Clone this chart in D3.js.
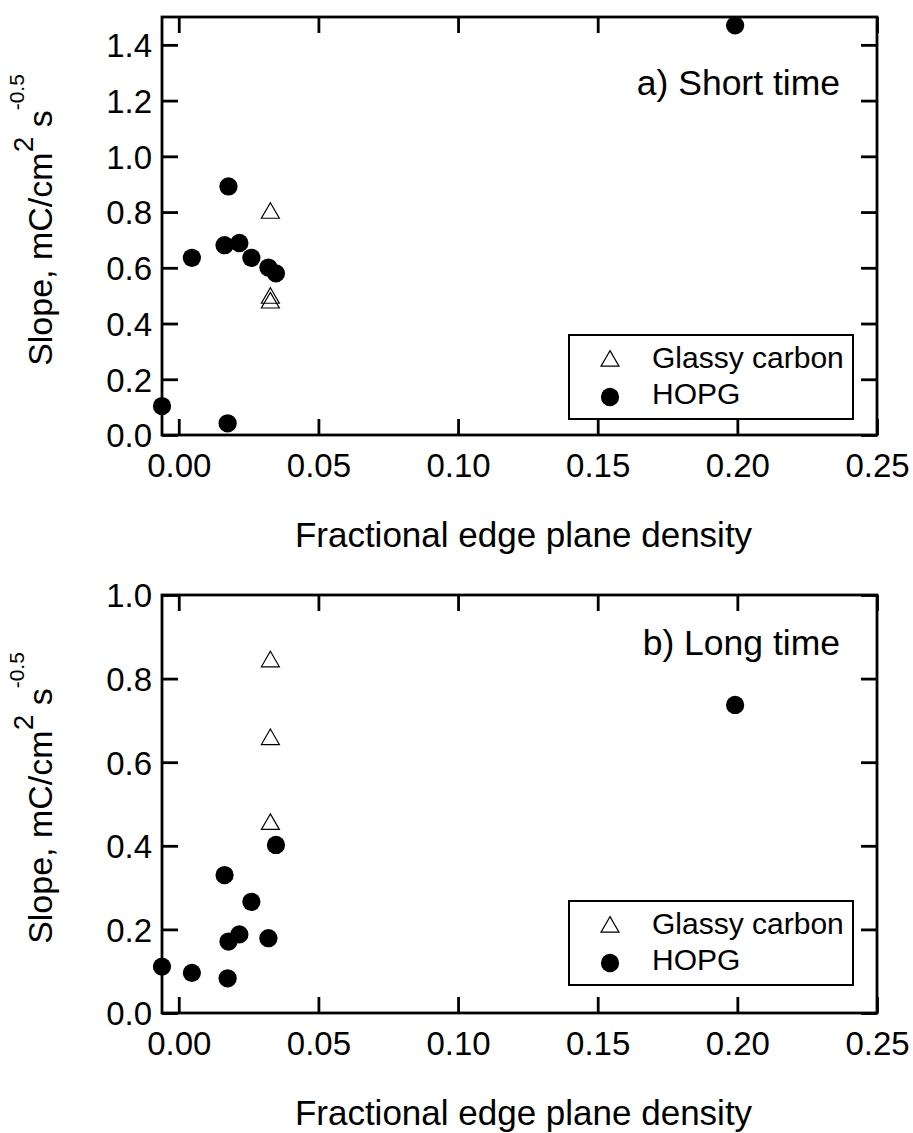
<!DOCTYPE html>
<html>
<head>
<meta charset="utf-8">
<script src="https://cdn.jsdelivr.net/npm/d3@7"></script>
<style>
  body { margin: 0; background: #fff; }
  svg text { font-family: Arial, "Liberation Sans", sans-serif; fill: #000; }
</style>
</head>
<body>
<script>
//slope vs fractional edge plane density, two panels (short / long time)

//HOPG samples, same x in both panels
var edgeDensity = [-0.006, 0.0047, 0.0164, 0.0175, 0.0178, 0.0217, 0.026, 0.0321, 0.0348, 0.1992];
var hopgShort   = [0.104, 0.636, 0.681, 0.042, 0.892, 0.689, 0.636, 0.601, 0.580, 1.470];
var hopgLong    = [0.111, 0.096, 0.330, 0.083, 0.171, 0.188, 0.266, 0.179, 0.402, 0.737];

//glassy carbon samples
var gcDensity = [0.0328, 0.0328, 0.0328];
var gcShort   = [0.800, 0.495, 0.478];
var gcLong    = [0.843, 0.657, 0.454];

var xTicks = [0, 0.05, 0.10, 0.15, 0.20, 0.25];
var yTicksShort = [0, 0.2, 0.4, 0.6, 0.8, 1.0, 1.2, 1.4];
var yTicksLong  = [0, 0.2, 0.4, 0.6, 0.8, 1.0];

var panelLabels = ["a) Short time", "b) Long time"];
var legendNames = ["Glassy carbon", "HOPG"];
var xTitle = "Fractional edge plane density";

var width = 913, height = 1133;
var left = 162, right = 877;

var svg = d3.select("body").append("svg")
    .attr("width", width)
    .attr("height", height);

var x = d3.scaleLinear().domain([-0.006, 0.25]).range([left, right]);

var triangle = d3.symbol().type(d3.symbolTriangle).size(140);
var circle = d3.symbol().type(d3.symbolCircle).size(262);

function drawPanel(opt){
    var g = svg.append("g");
    var y = d3.scaleLinear().domain([0, opt.ymax]).range([opt.bottom, opt.top]);

    //axes with inside ticks
    var xAxis = g.append("g")
        .attr("transform", "translate(0," + opt.bottom + ")")
        .call(d3.axisBottom(x).tickValues(xTicks).tickFormat(d3.format(".2f"))
            .tickSize(-16).tickPadding(19));
    var yAxis = g.append("g")
        .attr("transform", "translate(" + left + ",0)")
        .call(d3.axisLeft(y).tickValues(opt.yTicks).tickFormat(d3.format(".1f"))
            .tickSize(-16).tickPadding(10));
    //mirror ticks top and right
    var xTop = g.append("g")
        .attr("transform", "translate(0," + opt.top + ")")
        .call(d3.axisTop(x).tickValues(xTicks).tickFormat("").tickSize(-16));
    var yRight = g.append("g")
        .attr("transform", "translate(" + right + ",0)")
        .call(d3.axisRight(y).tickValues(opt.yTicks).tickFormat("").tickSize(-16));

    g.selectAll(".domain").remove();
    g.selectAll(".tick line").attr("stroke", "#000").attr("stroke-width", 2.8);
    g.selectAll(".tick text").attr("font-size", 33).attr("fill", "#000");
    yAxis.selectAll(".tick text").attr("dy", "0.36em");

    g.append("rect")
        .attr("x", left).attr("y", opt.top)
        .attr("width", right - left).attr("height", opt.bottom - opt.top)
        .attr("fill", "none").attr("stroke", "#000").attr("stroke-width", 2.8);

    //points
    g.selectAll(".gc")
        .data(gcDensity.map(function(d, i){ return [d, opt.gc[i]]; }))
        .enter().append("path")
        .attr("class", "gc")
        .attr("d", triangle)
        .attr("transform", function(d){ return "translate(" + x(d[0]) + "," + (y(d[1]) + 1) + ")"; })
        .attr("fill", "none").attr("stroke", "#000").attr("stroke-width", 1.2);

    g.selectAll(".hopg")
        .data(edgeDensity.map(function(d, i){ return [d, opt.hopg[i]]; }))
        .enter().append("path")
        .attr("class", "hopg")
        .attr("d", circle)
        .attr("transform", function(d){ return "translate(" + x(d[0]) + "," + y(d[1]) + ")"; })
        .attr("fill", "#000");

    //panel label
    g.append("text")
        .attr("x", 840).attr("y", opt.labelY)
        .attr("text-anchor", "end")
        .attr("font-size", 35.5)
        .text(opt.label);

    //legend
    var lg = g.append("g").attr("transform", "translate(569," + opt.legendY + ")");
    lg.append("rect")
        .attr("width", 284).attr("height", 84)
        .attr("fill", "#fff").attr("stroke", "#000").attr("stroke-width", 2);
    lg.append("path").attr("d", triangle)
        .attr("transform", "translate(41,26)")
        .attr("fill", "none").attr("stroke", "#000").attr("stroke-width", 1.2);
    lg.append("path").attr("d", circle)
        .attr("transform", "translate(41,62)")
        .attr("fill", "#000");
    lg.selectAll(".lt")
        .data(legendNames)
        .enter().append("text")
        .attr("x", 83)
        .attr("y", function(d, i){ return 33 + i * 36; })
        .attr("font-size", 30)
        .text(function(d){ return d; });

    //axis titles
    g.append("text")
        .attr("x", (left + right) / 2 + 4)
        .attr("y", opt.bottom + 112)
        .attr("text-anchor", "middle")
        .attr("font-size", 35)
        .text(xTitle);

    var yt = g.append("text")
        .attr("transform", "translate(52," + ((opt.top + opt.bottom) / 2 - 6) + ") rotate(-90)")
        .attr("text-anchor", "middle")
        .attr("font-size", 34);
    yt.append("tspan").text("Slope, mC/cm");
    yt.append("tspan").attr("font-size", 28).attr("dy", -19).text("2");
    yt.append("tspan").attr("dy", 19).text(" s");
    yt.append("tspan").attr("font-size", 21).attr("dy", -28).text("-0.5");
}

drawPanel({top: 17, bottom: 435, ymax: 1.5, yTicks: yTicksShort,
    hopg: hopgShort, gc: gcShort, label: panelLabels[0], labelY: 95, legendY: 335});
drawPanel({top: 595, bottom: 1013, ymax: 1.0, yTicks: yTicksLong,
    hopg: hopgLong, gc: gcLong, label: panelLabels[1], labelY: 655, legendY: 901});
</script>
</body>
</html>
